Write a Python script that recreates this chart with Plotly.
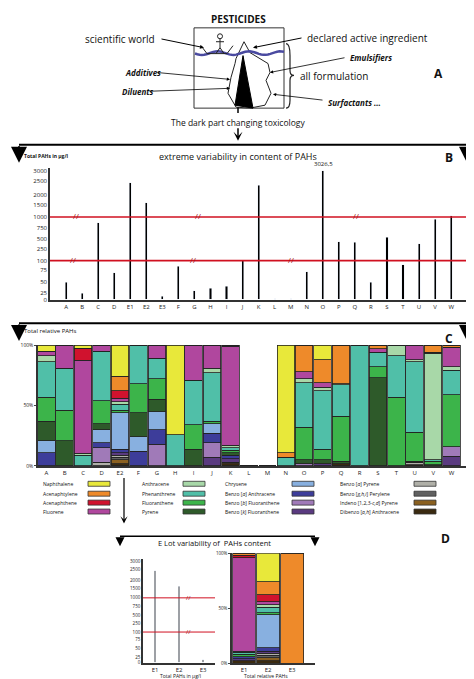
import numpy as np
import plotly.graph_objects as go

W, H = 474, 679
def px(x): return x / W
def py(y): return 1 - y / H

# ---------------- data ----------------
b_cats = ["A","B","C","D","E1","E2","E3","F","G","H","I","J","K","L","M","N","O","P","Q","R","S","T","U","V","W"]
b_vals = [50,22,870,70,2450,1600,12,85,30,35,40,100,2350,2,2,72,3026.5,440,420,50,540,90,380,950,1050]
tick_vals = [0,25,50,75,100,250,500,750,1000,1500,2000,2500,3000]
tick_disp = [0,7,18,30,40,52,62,74,85,98,108,122,133]

compounds = ["Dibenzo [<i>a,h</i>] Anthracene","Indeno [1,2,3-<i>c,d</i>] Pyrene","Benzo [<i>g,h,i</i>] Perylene",
             "Benzo [<i>a</i>] Pyrene","Benzo [<i>k</i>] Fluoranthene","Benzo [<i>b</i>] Fluoranthene",
             "Benzo [<i>a</i>] Anthracene","Chrysene","Pyrene","Fluoranthene","Phenanthrene","Anthracene",
             "Fluorene","Acenaphthene","Acenaphtylene","Naphthalene"]
colors = ["#3a2a10","#8a6020","#606060","#b0b0a8","#5a3a80","#a07ab8","#3d3d9a","#88b0e0",
          "#2e5a2a","#3cb44a","#50bfa8","#a8d8a8","#b0479e","#d0122e","#ee8a2a","#e8e83a"]
keys = ["DBA","IcdP","BghiP","BaP","BkF","BbF","BaA","Chr","Pyr","Flt","Phe","Ant","Flu","Ace","Acy","Nap"]

c_cats = ["A","B","C","D","E2","F","G","H","I","J","K","L","M","N","O","P","Q","R","S","T","U","V","W"]
comp = {
 "A": dict(BaA=11,Chr=10,Pyr=16,Flt=20,Phe=29,Ant=5,Flu=4,Nap=5),
 "B": dict(Pyr=21,Flt=25,Phe=35,Flu=19),
 "C": dict(Phe=9,Ant=1.5,Flu=77,Ace=10,Nap=2.5),
 "D": dict(BaP=3,BbF=12,BaA=4,Chr=11,Pyr=5,Flt=19,Phe=41,Flu=5),
 "E2": dict(DBA=2,IcdP=3,BghiP=2,BaP=2,BkF=2,BaA=3,Chr=30,Phe=5,Flt=2,Ant=2,Flu=3,Ace=6,Acy=12,Nap=26),
 "F": dict(BaA=12,Chr=12,Pyr=20,Flt=24,Phe=32),
 "G": dict(BbF=18,BaA=12,Chr=15,Pyr=10,Flt=17,Phe=17,Flu=11),
 "H": dict(Phe=26,Nap=74),
 "I": dict(Pyr=14,Flt=20,Phe=37,Flu=29),
 "J": dict(BkF=7,BbF=12,BaA=8,Chr=8,Flt=2,Phe=40,Ant=4,Flu=19),
 "K": dict(DBA=2,IcdP=1,BkF=3,BaA=3,Pyr=2,Flt=2,Phe=2,Ant=2,Flu=82,Ace=1),
 "L": dict(), "M": dict(),
 "N": dict(Phe=7,Acy=4,Nap=89),
 "O": dict(BbF=2,Pyr=3,Flt=27,Phe=37,Ant=3,Flu=6,Acy=22),
 "P": dict(BkF=2,Pyr=3,Flt=9,Phe=48,Ant=3,Flu=4,Acy=19,Nap=12),
 "Q": dict(DBA=2,Pyr=2,Flt=37,Phe=26,Ant=1,Acy=32),
 "R": dict(Phe=100),
 "S": dict(Pyr=73,Flt=9,Phe=12,Flu=3,Acy=3),
 "T": dict(Flt=57,Phe=34,Ant=9),
 "U": dict(DBA=1,Pyr=1,Flt=24,Phe=58,Ant=2,Flu=12,BaP=2),
 "V": dict(Pyr=1,Flt=3,Phe=1,Ant=88,Flu=1,Acy=6),
 "W": dict(BkF=8,BbF=8,Flt=43,Phe=20,Ant=3,Flu=16,Acy=2),
}
d_cats = ["E1","E2","E3"]
d_vals = [2450,1600,12]
d_comp = {
 "E1": dict(DBA=2,BkF=2,BaA=2,Flt=2,Phe=2,Ant=1,Flu=85,Ace=2,Acy=2),
 "E2": comp["E2"],
 "E3": dict(Acy=100),
}

def disp(v):
    return np.interp(v, tick_vals, tick_disp)

fig = go.Figure()

fig.add_trace(go.Bar(x=b_cats, y=disp(np.array(b_vals)), width=0.13, marker_color="black",
                     xaxis="x", yaxis="y", showlegend=False))
for k, name, col in zip(keys, compounds, colors):
    fig.add_trace(go.Bar(x=c_cats, y=[comp[c].get(k, 0) for c in c_cats], name=name,
                         marker=dict(color=col, line=dict(color="#222", width=0.8)),
                         xaxis="x2", yaxis="y2", showlegend=False))
fig.add_trace(go.Bar(x=d_cats, y=disp(np.array(d_vals)), width=0.06, marker_color="#555",
                     xaxis="x3", yaxis="y3", showlegend=False))
for k, name, col in zip(keys, compounds, colors):
    fig.add_trace(go.Bar(x=d_cats, y=[d_comp[c].get(k, 0) for c in d_cats], name=name,
                         marker=dict(color=col, line=dict(color="#222", width=0.8)),
                         xaxis="x4", yaxis="y4", showlegend=False))

tf = dict(family="Open Sans, DejaVu Sans", color="#222")
ax_common = dict(showgrid=False, zeroline=False, linecolor="#333", linewidth=1.5, ticks="")
ax_nt = {k: v for k, v in ax_common.items() if k != "ticks"}
fig.update_layout(
    width=W, height=H, margin=dict(l=0, r=0, t=0, b=0), paper_bgcolor="white", plot_bgcolor="white",
    barmode="stack", bargap=0.05, font=tf,
    xaxis=dict(domain=[px(42), px(460)], anchor="y", showline=True, range=[-1, 25.05], tickfont=dict(size=6), **ax_common),
    yaxis=dict(domain=[py(292), py(158)], anchor="x", range=[-1, 136], showline=True,
               tickvals=tick_disp, ticktext=[str(v) for v in tick_vals], tickfont=dict(size=6), **ax_common),
    xaxis2=dict(domain=[px(30), px(462)], anchor="y2", showline=True, range=[-0.45, 23.0], tickfont=dict(size=6), **ax_common),
    yaxis2=dict(domain=[py(459), py(337)], anchor="x2", range=[0, 100], showline=True,
                tickvals=[0, 50, 100], ticktext=["0%", "50%", "100%"], tickfont=dict(size=5), ticks="outside", ticklen=2, **ax_nt),
    xaxis3=dict(domain=[px(135), px(207)], anchor="y3", showline=True, range=[-0.5, 2.5], tickfont=dict(size=6), **ax_common),
    yaxis3=dict(domain=[py(658), py(553)], anchor="x3", range=[-1, 136], showline=True,
                tickvals=tick_disp, ticktext=[str(v) for v in tick_vals], tickfont=dict(size=4.5), **ax_common),
    xaxis4=dict(domain=[px(224), px(307)], anchor="y4", showline=True, range=[-0.5, 2.95], tickfont=dict(size=6), **ax_common),
    yaxis4=dict(domain=[py(658), py(547)], anchor="x4", range=[0, 100], showline=True,
                tickvals=[0, 50, 100], ticktext=["0%", "50%", "100%"], tickfont=dict(size=4.5), ticks="outside", ticklen=2, **ax_nt),
)

shapes = []
ann = []
def line(x0, y0, x1, y1, color="black", w=1.2, dash=None):
    shapes.append(dict(type="line", xref="paper", yref="paper", x0=px(x0), y0=py(y0), x1=px(x1), y1=py(y1),
                       line=dict(color=color, width=w, dash=dash)))
def text(x, y, t, size=9, xanchor="center", **kw):
    ann.append(dict(xref="paper", yref="paper", x=px(x), y=py(y), text=t, showarrow=False,
                    font=dict(size=size, color=kw.pop("color", "#111"), family="Open Sans, DejaVu Sans"),
                    xanchor=xanchor, yanchor="middle", **kw))
def arrow(x0, y0, x1, y1, head=2, size=1.0, w=1.0):
    ann.append(dict(xref="paper", yref="paper", x=px(x1), y=py(y1), ax=x0 - x1, ay=y0 - y1, axref="pixel",
                    ayref="pixel", text="", showarrow=True, arrowhead=head, arrowsize=size, arrowwidth=w,
                    arrowcolor="black"))

# ---------------- panel A drawing ----------------
text(230, 8, "<b>PESTICIDES</b>", 10)
shapes.append(dict(type="rect", xref="paper", yref="paper", x0=px(186), y0=py(98), x1=px(276), y1=py(17),
                   line=dict(color="#333", width=1)))
ice = [(228,48),(236,31),(242,42),(260,53),(262,62),(258,70),(263,83),(257,95),(242,98),(228,97),(220,83),(223,67),(227,53)]
path = "M " + " L ".join(f"{px(x)},{py(y)}" for x, y in ice) + " Z"
shapes.append(dict(type="path", xref="paper", yref="paper", path=path, line=dict(color="#222", width=1), fillcolor="white"))
tri = [(235,45),(227,95),(245,98)]
shapes.append(dict(type="path", xref="paper", yref="paper",
                   path="M " + " L ".join(f"{px(x)},{py(y)}" for x, y in tri) + " Z",
                   line=dict(color="black", width=1), fillcolor="black"))
wx = np.linspace(187, 276, 40)
wy = 42.5 + 1.8 * np.sin((wx - 186) / 5.0)
shapes.append(dict(type="path", xref="paper", yref="paper",
                   path="M " + " L ".join(f"{px(x)},{py(y)}" for x, y in zip(wx, wy)),
                   line=dict(color="#4a4aa0", width=2.5)))
boat = [(193,35),(199,43),(219,43),(225,35)]
shapes.append(dict(type="path", xref="paper", yref="paper",
                   path="M " + " L ".join(f"{px(x)},{py(y)}" for x, y in boat), line=dict(color="#222", width=1)))
shapes.append(dict(type="circle", xref="paper", yref="paper", x0=px(209.5), x1=px(214.5), y0=py(28), y1=py(23),
                   line=dict(color="#222", width=1)))
line(212, 28, 212, 37, "#222", 1); line(208, 31, 216, 31, "#222", 1)
line(212, 37, 208, 43, "#222", 1); line(212, 37, 216, 43, "#222", 1)
shapes.append(dict(type="path", xref="paper", yref="paper",
                   path=f"M {px(278)},{py(33)} Q {px(282)},{py(33)} {px(282)},{py(45)} L {px(282)},{py(60)} Q {px(282)},{py(65)} {px(286)},{py(65)} "
                        f"Q {px(282)},{py(65)} {px(282)},{py(70)} L {px(282)},{py(90)} Q {px(282)},{py(98)} {px(278)},{py(98)}",
                   line=dict(color="#222", width=1.2)))
text(75, 28, "scientific world", 10, "left"); arrow(152, 28, 196, 37, 2, 0.8)
text(297, 27, "declared active ingredient", 10, "left"); arrow(295, 27, 245, 37, 2, 0.8)
text(340, 47, "<b><i>Emulsifiers</i></b>", 8, "left"); arrow(338, 47, 262, 62, 2, 0.8, 0.8)
text(290, 66, "all formulation", 10, "left")
text(115, 62, "<b><i>Additives</i></b>", 8, "left"); arrow(148, 62, 222, 69, 2, 0.8, 0.8)
text(112, 81, "<b><i>Diluents</i></b>", 8, "left"); arrow(140, 81, 222, 78, 2, 0.8, 0.8)
text(318, 92, "<b><i>Surfactants ...</i></b>", 8, "left"); arrow(316, 90, 265, 84, 2, 0.8, 0.8)
text(430, 63, "<b>A</b>", 12)
line(230, 97, 230, 103, "black", 1.5)
text(230, 112, "The dark part changing toxicology", 8.5)
arrow(230, 117, 230, 131, 3, 1.0, 1.5)

# ---------------- panel B framing ----------------
line(11, 135, 463, 135, "black", 2)
arrow(11, 135, 11, 153, 2, 1.6, 2)
arrow(459, 135, 459, 153, 2, 1.6, 2)
text(14, 146, "<b>Total PAHs in µg/l</b>", 5, "left")
text(230, 147, "extreme variability in content of PAHs", 9)
text(441, 148, "<b>B</b>", 12)
text(315, 154, "3026,5", 6)
for v in [1000, 100]:
    shapes.append(dict(type="line", xref="x domain", yref="y", x0=0, x1=1.0, y0=float(disp(v)), y1=float(disp(v)),
                       line=dict(color="#d01020", width=1.6)))
for xp in [68, 190, 348]:
    text(xp, 206, "//", 8, color="#a01010")
for xp in [65, 185, 283]:
    text(xp, 251, "//", 8, color="#a01010")

# ---------------- panel C framing ----------------
line(11, 315, 463, 315, "black", 2)
arrow(11, 315, 11, 333, 2, 1.6, 2)
arrow(459, 315, 459, 333, 2, 1.6, 2)
text(14, 323, "Total relative PAHs", 6, "left")
text(441, 330, "<b>C</b>", 12)

# ---------------- legend ----------------
cols_x = [(33, 80), (132, 175), (215, 284), (330, 406)]
rows_y = [477, 487, 496, 505]
legend_order = [["Nap","Acy","Ace","Flu"], ["Ant","Phe","Flt","Pyr"], ["Chr","BaA","BbF","BkF"], ["BaP","BghiP","IcdP","DBA"]]
leg_names = {"Nap":"Naphthalene","Acy":"Acenaphtylene","Ace":"Acenaphthene","Flu":"Fluorene"}
for (tx, sx), group in zip(cols_x, legend_order):
    for yy, k in zip(rows_y, group):
        i = keys.index(k)
        text(tx, yy, leg_names.get(k, compounds[i]), 5, "left")
        shapes.append(dict(type="rect", xref="paper", yref="paper", x0=px(sx), x1=px(sx + 22), y0=py(yy + 2.5), y1=py(yy - 2.5),
                           fillcolor=colors[i], line=dict(color="#333", width=0.8)))

# ---------------- panel D framing ----------------
arrow(116, 470, 116, 517, 3, 1.0, 1.2)
line(112, 530, 307, 530, "black", 1.5)
arrow(112, 530, 112, 540, 2, 1.2, 1.5)
arrow(307, 530, 307, 540, 2, 1.2, 1.5)
text(206, 537, "E Lot variability of  PAHs content", 7.5)
text(437, 532, "<b>D</b>", 12)
text(172, 671, "Total PAHs in µg/l", 5)
text(258, 671, "Total relative PAHs", 5)
for v in [1000, 100]:
    shapes.append(dict(type="line", xref="x3 domain", yref="y3", x0=0, x1=1.0, y0=float(disp(v)), y1=float(disp(v)),
                       line=dict(color="#d01020", width=1)))
    text(180, 658 - (float(disp(v)) + 1) / 137 * 105, "//", 6, color="#a01010")

fig.update_layout(shapes=shapes, annotations=ann)
fig.write_html("out.html")
